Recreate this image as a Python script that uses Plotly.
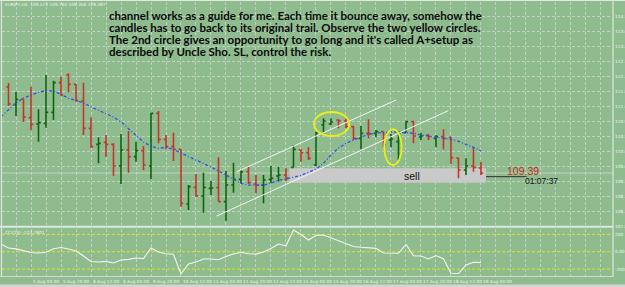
import plotly.graph_objects as go

# ---------------- data ----------------
bar_idx = list(range(1, 65))
opens = [111.97, 111.45, 111.61, 111.05, 110.86, 110.88, 111.21, 112.10, 112.33, 112.05,
         111.55, 110.73, 110.25, 110.31, 110.25, 109.60, 110.08, 109.88, 110.06, 109.60,
         111.18, 110.40, 110.18, 110.10, 108.46, 108.96, 108.70, 108.93, 108.95, 108.53,
         109.03, 109.20, 109.43, 109.06, 109.03, 109.20, 109.30, 109.33, 109.56, 110.08,
         110.00, 109.63, 110.83, 110.86, 110.98, 110.95, 110.78, 110.43, 110.58, 110.58,
         110.63, 110.38, 110.33, 110.60, 110.93, 110.47, 110.53, 110.43, 110.48, 110.46,
         109.84, 109.48, 109.60, 109.54]
highs = [112.09, 111.82, 111.61, 111.98, 111.30, 112.33, 112.16, 112.28, 112.38, 112.06,
         112.10, 111.06, 110.46, 110.53, 110.28, 110.56, 110.65, 110.33, 110.20, 111.20,
         111.25, 110.53, 110.60, 110.10, 109.03, 109.36, 109.40, 109.15, 109.86, 109.45,
         109.70, 109.48, 109.58, 109.33, 109.33, 109.60, 109.58, 109.53, 110.23, 110.10,
         110.16, 110.63, 111.03, 111.03, 111.00, 111.03, 110.80, 110.80, 111.00, 110.68,
         110.63, 110.56, 110.63, 110.96, 110.96, 110.60, 110.56, 110.53, 110.70, 110.46,
         109.85, 109.83, 110.16, 109.72]
lows = [111.40, 111.10, 110.92, 110.68, 110.33, 110.75, 110.98, 111.71, 111.81, 111.53,
        110.53, 110.15, 109.68, 109.88, 109.31, 109.06, 109.40, 109.73, 109.48, 109.20,
        110.28, 110.10, 109.75, 108.38, 108.28, 108.68, 108.20, 108.73, 108.53, 107.96,
        108.80, 109.08, 109.06, 108.78, 108.48, 109.08, 109.13, 109.16, 109.56, 109.73,
        109.78, 109.60, 110.60, 110.83, 110.73, 110.73, 110.38, 110.10, 110.43, 110.46,
        110.16, 110.16, 109.78, 110.60, 110.28, 110.38, 110.38, 110.16, 110.10, 109.66,
        109.23, 109.33, 109.43, 109.33]
closes = [111.46, 111.60, 111.07, 110.85, 110.90, 111.21, 112.10, 111.73, 112.05, 111.56,
          110.73, 110.18, 110.28, 110.25, 109.60, 110.08, 109.88, 110.06, 109.63, 111.18,
          110.40, 110.18, 110.10, 108.48, 108.98, 108.70, 108.96, 108.94, 108.53, 109.03,
          109.20, 109.42, 109.10, 109.03, 109.18, 109.23, 109.33, 109.23, 110.10, 110.00,
          109.83, 110.60, 110.95, 110.92, 110.95, 110.78, 110.43, 110.58, 110.57, 110.63,
          110.23, 110.41, 110.60, 110.93, 110.50, 110.50, 110.48, 110.48, 110.43, 109.85,
          109.48, 109.60, 109.56, 109.39]

ma_idx = list(range(0, 65))
ma_vals = [111.08, 111.28, 111.49, 111.64, 111.73, 111.81, 111.86, 111.85, 111.75, 111.63,
           111.57, 111.49, 111.37, 111.27, 111.18, 111.07, 110.92, 110.71, 110.50, 110.32,
           110.19, 110.13, 110.16, 110.10, 109.99, 109.89, 109.78, 109.68, 109.57, 109.45,
           109.32, 109.21, 109.08, 109.03, 109.02, 109.02, 109.09, 109.17, 109.21, 109.26,
           109.32, 109.41, 109.51, 109.68, 109.93, 110.14, 110.28, 110.38, 110.47, 110.55,
           110.59, 110.61, 110.62, 110.62, 110.60, 110.58, 110.53, 110.50, 110.47, 110.45,
           110.40, 110.34, 110.26, 110.16, 110.05]

cci_idx = list(range(0, 65))
cci_vals = [89, 43, 33, 14, -9, -15, -7, 35, 48, 31,
            8, -50, -113, -119, -111, -130, -96, -88, -73, -80,
            43, -3, -24, -30, -257, -142, -119, -84, -84, -93,
            -55, -27, -7, -24, -28, -3, 37, 89, 69, 250,
            198, 135, 189, 193, 160, 129, 97, 60, 51, 45,
            39, -15, -20, -18, 85, -46, -50, -84, -44, -80,
            -249, -251, -153, -122, -123.78]

date_idx = [0, 4, 8, 12, 16, 20, 24, 28, 32, 36, 40, 44, 48, 52, 56, 60, 64]
date_labels = ["4 Aug 2011", "5 Aug 04:00", "5 Aug 20:00", "8 Aug 12:00", "9 Aug 04:00",
               "9 Aug 20:00", "10 Aug 12:00", "11 Aug 04:00", "11 Aug 20:00", "12 Aug 12:00",
               "15 Aug 04:00", "15 Aug 20:00", "16 Aug 12:00", "17 Aug 04:00", "17 Aug 20:00",
               "18 Aug 12:00", "19 Aug 04:00"]

price_ticks = [107.80, 108.25, 108.70, 109.15, 109.60, 110.05, 110.50, 110.95, 111.40,
               111.85, 112.30, 112.75, 113.20, 113.65, 114.10, 114.55]
cci_levels = [-200, 0, 200]

chan_upper_x = [31.47, 52.67]
chan_upper_y = [109.43, 111.58]
chan_lower_x = [28.76, 59.64]
chan_lower_y = [108.10, 111.26]

circle1 = (41.73, 46.44, 110.50, 111.22)
circle2 = (51.10, 53.43, 109.63, 110.70)
sell_box = (38.44, 64.67, 109.10, 109.53)
last_price = 109.39

note_lines = [
    "channel works as a guide for me. Each time it bounce away, somehow the",
    "candles has to go back to its original trail. Observe the two yellow circles.",
    "The 2nd circle gives an opportunity to go long and it's called A+setup as",
    "described by Uncle Sho. SL, control the risk.",
]

# ---------------- figure ----------------
W, H = 625, 287
BG = "#8fbc8f"
GRID = "rgba(225,225,225,0.6)"
SMALL = dict(family="DejaVu Sans", size=4.3, color="#f2f2f2")


def py(p):
    return 1 - p / H


fig = go.Figure()

fig.add_trace(go.Ohlc(
    x=bar_idx, open=opens, high=highs, low=lows, close=closes,
    increasing=dict(line=dict(color="#0e640e", width=1.6)),
    decreasing=dict(line=dict(color="#c8322c", width=1.6)),
    tickwidth=0.3, showlegend=False, hoverinfo="skip",
    xaxis="x", yaxis="y"))

fig.add_trace(go.Scatter(
    x=ma_idx, y=ma_vals, mode="lines",
    line=dict(color="#2f4ff0", width=1.3, dash="3px,2px,1px,2px"),
    showlegend=False, hoverinfo="skip", xaxis="x", yaxis="y"))

for cx, cy in ((chan_upper_x, chan_upper_y), (chan_lower_x, chan_lower_y)):
    fig.add_trace(go.Scatter(
        x=cx, y=cy, mode="lines", line=dict(color="#f4f4f4", width=1),
        showlegend=False, hoverinfo="skip", xaxis="x", yaxis="y"))

fig.add_trace(go.Scatter(
    x=cci_idx, y=cci_vals, mode="lines", line=dict(color="#f4f4f4", width=1.1),
    showlegend=False, hoverinfo="skip", xaxis="x2", yaxis="y2"))

xdom = [2 / W, 612 / W]
xrange = [0.133, 81.47]

fig.update_layout(
    width=W, height=H, margin=dict(l=0, r=0, t=0, b=0),
    paper_bgcolor=BG, plot_bgcolor=BG,
    xaxis=dict(domain=xdom, range=xrange, anchor="y", showticklabels=False,
               showgrid=True, gridcolor=GRID, griddash="3px,2px", gridwidth=1,
               tick0=0, dtick=2, zeroline=False, showline=False, ticks="",
               rangeslider=dict(visible=False), fixedrange=True),
    yaxis=dict(domain=[py(226), py(2)], range=[107.80, 114.52], anchor="x",
               side="right", tickmode="array", tickvals=price_ticks,
               ticktext=["%.2f" % v for v in price_ticks],
               tickfont=SMALL,
               showgrid=True, gridcolor=GRID, griddash="3px,2px", gridwidth=1,
               zeroline=False, showline=False, ticks="", automargin=False,
               ticklabelstandoff=2),
    xaxis2=dict(domain=xdom, range=xrange, anchor="y2", matches="x",
                showticklabels=False, showgrid=True, gridcolor=GRID,
                griddash="3px,2px", tick0=0, dtick=2, zeroline=False,
                showline=False, ticks=""),
    yaxis2=dict(domain=[py(276), py(229)], range=[-280, 262], anchor="x2",
                side="right", tickmode="array", tickvals=cci_levels,
                ticktext=["-200", "0.00", "200"],
                tickfont=SMALL, showgrid=False, zeroline=False,
                showline=False, ticks="", automargin=False, ticklabelstandoff=2),
)

shapes = []
# CCI level lines
for lv in cci_levels:
    shapes.append(dict(type="line", xref="paper", yref="y2", x0=xdom[0], x1=xdom[1],
                       y0=lv, y1=lv, line=dict(color="#e2e21c", width=1, dash="3px,2px"),
                       layer="between"))
# sell box (behind bars, above grid)
shapes.append(dict(type="rect", xref="x", yref="y", x0=sell_box[0], x1=sell_box[1],
                   y0=sell_box[2], y1=sell_box[3], fillcolor="#c9c9c9",
                   line=dict(width=0), layer="between"))
# bid line
shapes.append(dict(type="line", xref="paper", yref="y", x0=xdom[0], x1=xdom[1],
                   y0=last_price, y1=last_price,
                   line=dict(color="rgba(215,215,215,0.75)", width=1), layer="between"))
# yellow circles
for c in (circle1, circle2):
    shapes.append(dict(type="circle", xref="x", yref="y", x0=c[0], x1=c[1],
                       y0=c[2], y1=c[3], line=dict(color="#eeee10", width=1.8)))
# price label leader line
shapes.append(dict(type="line", xref="x", yref="y", x0=sell_box[1], x1=70.1,
                   y0=109.28, y1=109.28, line=dict(color="#303030", width=1)))
# borders / separators
shapes.append(dict(type="line", xref="paper", yref="paper", x0=0, x1=613 / W,
                   y0=py(226.8), y1=py(226.8), line=dict(color="#dfe8dc", width=2)))
shapes.append(dict(type="line", xref="paper", yref="paper", x0=613 / W, x1=613 / W,
                   y0=py(0), y1=py(277), line=dict(color="#dfe8dc", width=1.2)))
shapes.append(dict(type="line", xref="paper", yref="paper", x0=1.5 / W, x1=1.5 / W,
                   y0=py(0), y1=py(277), line=dict(color="#dfe8dc", width=1.2)))
shapes.append(dict(type="line", xref="paper", yref="paper", x0=0, x1=1,
                   y0=py(0.5), y1=py(0.5), line=dict(color="#dfe8dc", width=1)))
shapes.append(dict(type="line", xref="paper", yref="paper", x0=0, x1=613 / W,
                   y0=py(276.5), y1=py(276.5), line=dict(color="#cfdccc", width=1)))
shapes.append(dict(type="rect", xref="paper", yref="paper", x0=0, x1=1,
                   y0=0, y1=py(284.5), fillcolor="#d4d4d4", line=dict(width=0)))
fig.update_layout(shapes=shapes)

ann = []
note_y = [15, 27.2, 39.5, 51.8]
for t, yy in zip(note_lines, note_y):
    ann.append(dict(xref="paper", yref="paper", x=107 / W, y=py(yy), text="<b>%s</b>" % t,
                    showarrow=False, xanchor="left", yanchor="middle",
                    font=dict(family="Lato", size=11.5, color="#0a0a0a")))
ann.append(dict(xref="paper", yref="paper", x=3 / W, y=py(5),
                text="EURJPY,H4  109.573 109.765 109.358 109.387", showarrow=False,
                xanchor="left", yanchor="middle", font=SMALL))
ann.append(dict(xref="paper", yref="paper", x=3 / W, y=py(232),
                text="CCI(14) -123.7801", showarrow=False,
                xanchor="left", yanchor="middle", font=SMALL))
for k, lab in zip(date_idx, date_labels):
    ann.append(dict(xref="x2", yref="paper", x=k, y=py(281.3), text=lab,
                    showarrow=False, xanchor="left", yanchor="middle", font=SMALL))
ann.append(dict(xref="x", yref="y", x=54.8, y=109.315, text="sell", showarrow=False,
                xanchor="center", yanchor="middle",
                font=dict(family="Liberation Sans", size=10.5, color="#101010")))
ann.append(dict(xref="x", yref="y", x=69.6, y=109.45, text="109.39", showarrow=False,
                xanchor="center", yanchor="middle",
                font=dict(family="Liberation Sans", size=10.5, color="#cc2a22")))
ann.append(dict(xref="x", yref="y", x=72.1, y=109.16, text="01:07:37", showarrow=False,
                xanchor="center", yanchor="middle",
                font=dict(family="Liberation Sans", size=8.5, color="#101010")))
fig.update_layout(annotations=ann)

fig.write_html("out.html")
